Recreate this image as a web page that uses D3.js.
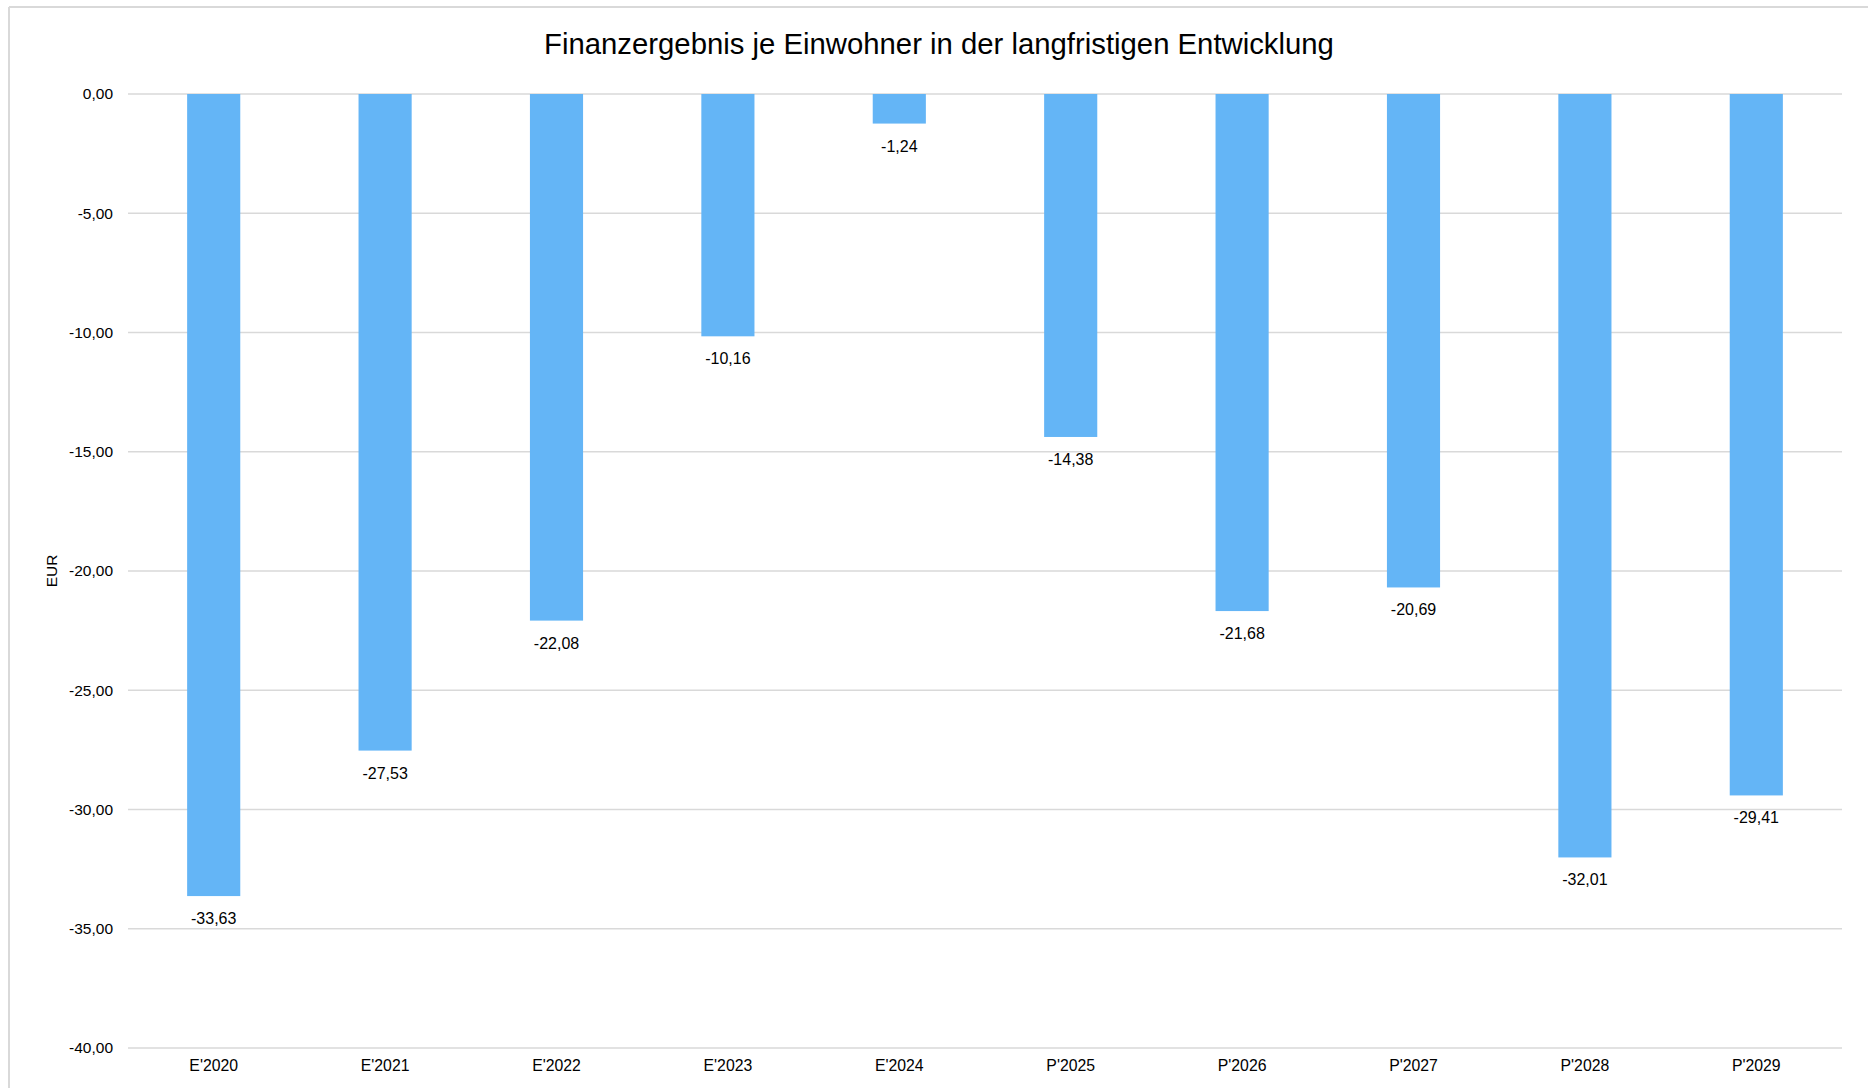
<!DOCTYPE html>
<html>
<head>
<meta charset="utf-8">
<script src="https://cdn.jsdelivr.net/npm/d3@7"></script>
<style>
  body { margin: 0; background: #fff; }
  svg { display: block; font-family: "Liberation Sans", Arial, sans-serif; }
</style>
</head>
<body>
<svg id="chart"></svg>
<script>
const categories = ["E'2020", "E'2021", "E'2022", "E'2023", "E'2024", "P'2025", "P'2026", "P'2027", "P'2028", "P'2029"]
const values = [-33.63, -27.53, -22.08, -10.16, -1.24, -14.38, -21.68, -20.69, -32.01, -29.41]
const yTicks = [0, -5, -10, -15, -20, -25, -30, -35, -40]

const title = 'Finanzergebnis je Einwohner in der langfristigen Entwicklung'
const yTitle = 'EUR'

const width = 1868, height = 1088
const margin = { top: 94, right: 26, bottom: 40, left: 128 }

const fmt = v => d3.format('.2f')(v).replace('.', ',').replace('−', '-')

const svg = d3.select('#chart')
  .attr('width', width)
  .attr('height', height)

// outer frame (top + left only visible)
svg.append('line')
  .attr('x1', 9).attr('x2', width).attr('y1', 7).attr('y2', 7)
  .attr('stroke', '#d9d9d9').attr('stroke-width', 2)
svg.append('line')
  .attr('x1', 9).attr('x2', 9).attr('y1', 7).attr('y2', height)
  .attr('stroke', '#d9d9d9').attr('stroke-width', 2)

const x = d3.scaleBand()
  .domain(categories)
  .range([margin.left, width - margin.right])
  .paddingInner(0.69)
  .paddingOuter(0.345)

const y = d3.scaleLinear()
  .domain([-40, 0])
  .range([height - margin.bottom, margin.top])

// gridlines
svg.append('g')
  .selectAll('line')
  .data(yTicks)
  .enter().append('line')
    .attr('x1', margin.left)
    .attr('x2', width - margin.right)
    .attr('y1', d => y(d))
    .attr('y2', d => y(d))
    .attr('stroke', '#d9d9d9')
    .attr('stroke-width', 1.5)

// y axis labels
const yAxis = svg.append('g')
  .attr('transform', `translate(${margin.left - 15},0)`)
  .call(d3.axisLeft(y).tickValues(yTicks).tickFormat(fmt).tickSize(0).tickPadding(0))
yAxis.select('.domain').remove()
yAxis.selectAll('text')
  .attr('font-size', 15.5)
  .attr('fill', '#000')
  .attr('font-family', '"Liberation Sans", Arial, sans-serif')

// x axis labels
const xAxis = svg.append('g')
  .attr('transform', `translate(0,${y(-40)})`)
  .call(d3.axisBottom(x).tickSize(0).tickPadding(12))
xAxis.select('.domain').remove()
xAxis.selectAll('text')
  .attr('font-size', 15.8)
  .attr('fill', '#000')
  .attr('font-family', '"Liberation Sans", Arial, sans-serif')

// bars
svg.append('g')
  .selectAll('rect')
  .data(values)
  .enter().append('rect')
    .attr('x', (d, i) => x(categories[i]))
    .attr('y', y(0))
    .attr('width', x.bandwidth())
    .attr('height', d => y(d) - y(0))
    .attr('fill', '#64b5f6')

// data labels
svg.append('g')
  .selectAll('text')
  .data(values)
  .enter().append('text')
    .attr('x', (d, i) => x(categories[i]) + x.bandwidth() / 2)
    .attr('y', d => y(d) + 28)
    .attr('text-anchor', 'middle')
    .attr('font-size', 16)
    .attr('fill', '#000')
    .text(d => fmt(d))

// title
svg.append('text')
  .attr('x', 939)
  .attr('y', 54)
  .attr('text-anchor', 'middle')
  .attr('font-size', 29.3)
  .attr('fill', '#000')
  .text(title)

// y axis title
svg.append('text')
  .attr('transform', `translate(57,${(y(0) + y(-40)) / 2}) rotate(-90)`)
  .attr('text-anchor', 'middle')
  .attr('font-size', 15.5)
  .attr('fill', '#000')
  .text(yTitle)
</script>
</body>
</html>
